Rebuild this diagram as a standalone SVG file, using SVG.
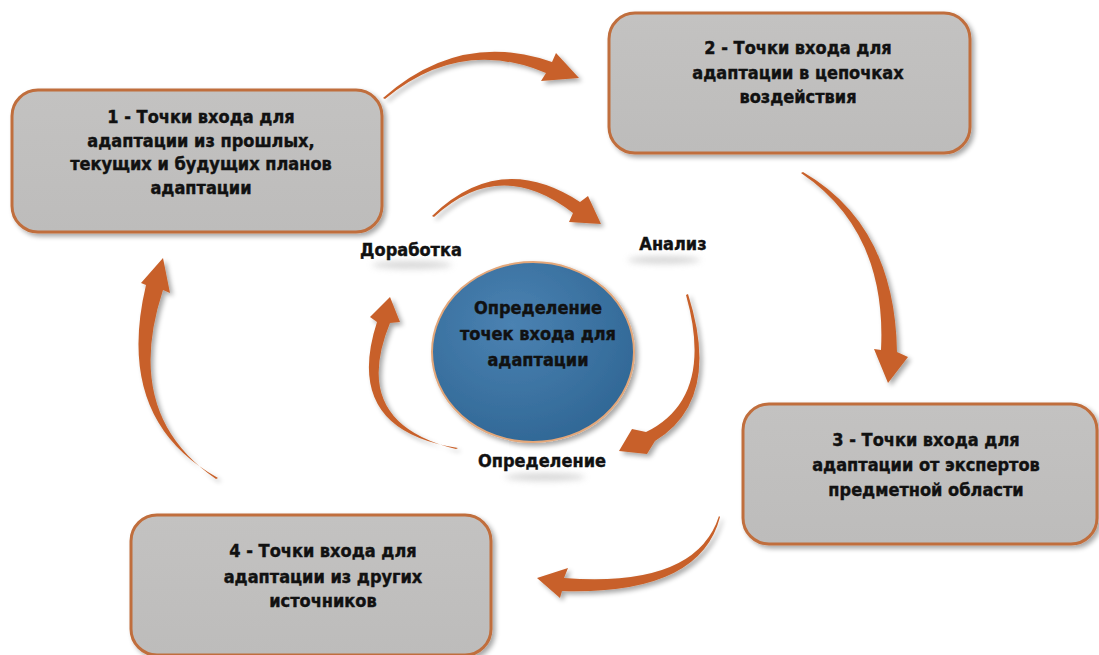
<svg xmlns="http://www.w3.org/2000/svg" width="1099" height="655" viewBox="0 0 1099 655">
  <defs>
    <filter id="shadow" x="-20%" y="-20%" width="140%" height="140%">
      <feGaussianBlur in="SourceAlpha" stdDeviation="2.5"/>
      <feOffset dx="3" dy="3" result="off"/>
      <feComponentTransfer><feFuncA type="linear" slope="0.35"/></feComponentTransfer>
      <feMerge><feMergeNode/><feMergeNode in="SourceGraphic"/></feMerge>
    </filter>
    <filter id="smudge" x="-30%" y="-100%" width="160%" height="300%">
      <feGaussianBlur stdDeviation="3"/>
    </filter>
    <radialGradient id="disc" cx="40%" cy="35%" r="70%">
      <stop offset="0" stop-color="#4b82b2"/>
      <stop offset="1" stop-color="#306795"/>
    </radialGradient>
    <linearGradient id="boxfill" x1="0" y1="0" x2="0" y2="1">
      <stop offset="0" stop-color="#c3c2c1"/>
      <stop offset="1" stop-color="#bdbcbb"/>
    </linearGradient>
  </defs>
  <style>
    .box { fill: url(#boxfill); stroke: #c06e3c; stroke-width: 3; filter: url(#shadow); }
    .lbl { font-family: "DejaVu Sans Condensed", "DejaVu Sans", sans-serif; font-stretch: condensed; font-weight: bold; font-size: 18px; fill: #111; stroke: #111; stroke-width: 0.4; text-anchor: middle; }
    .arrow { fill: #c8612a; filter: url(#shadow); }
    .smudge { fill: #b8b8b8; opacity: 0.55; filter: url(#smudge); }
  </style>

  <rect width="1099" height="655" fill="#ffffff"/>

  <!-- curved cycle arrows: each is a tapered crescent body plus a triangular head -->
  <g id="connectors">
    <!-- outer ring -->
    <path class="arrow" d="M 383 98 Q 460 30 552 62 L 556 53 L 579 78 L 541 81 L 546 73 Q 460 37 385 99 Z"/>
    <path class="arrow" d="M 803 172 Q 895 225 897 352 L 908 357 L 888 383 L 874 349 L 881 350 Q 887 231 801 173 Z"/>
    <path class="arrow" d="M 720 517 Q 700 595 562 591 L 560 598 L 537 578 L 568 568 L 564 578 Q 696 588 719 516 Z"/>
    <path class="arrow" d="M 218 478 Q 114 420 146 285 L 141 283 L 163 258 L 170 293 L 163 290 Q 122 415 216 479 Z"/>
    <!-- inner ring -->
    <path class="arrow" d="M 432 216 Q 500 150 580 202 L 588 196 L 601 224 L 569 222 L 573 213 Q 500 156 434 217 Z"/>
    <path class="arrow" d="M 688 294 Q 722 400 655 441 L 647 454 L 619 451 L 632 429 L 646 432 Q 715 398 686 295 Z"/>
    <path class="arrow" d="M 458 448 Q 342 430 377 322 L 370 317 L 390 297 L 400 322 L 390 323 Q 349 423 456 449 Z"/>
  </g>

  <g id="node1">
    <rect class="box" x="12" y="90" width="370" height="142" rx="26"/>
    <text class="lbl" x="201"><tspan y="123">1 - Точки входа для</tspan><tspan x="201" y="146.5">адаптации из прошлых,</tspan><tspan x="201" y="170">текущих и будущих планов</tspan><tspan x="201" y="193.5">адаптации</tspan></text>
  </g>

  <g id="node2">
    <rect class="box" x="609" y="13" width="361" height="140" rx="26"/>
    <text class="lbl" x="798"><tspan y="54">2 - Точки входа для</tspan><tspan x="798" y="78.5">адаптации в цепочках</tspan><tspan x="798" y="103">воздействия</tspan></text>
  </g>

  <g id="node3">
    <rect class="box" x="743" y="404" width="354" height="140" rx="26"/>
    <text class="lbl" x="926"><tspan y="446">3 - Точки входа для</tspan><tspan x="926" y="471">адаптации от экспертов</tspan><tspan x="926" y="496">предметной области</tspan></text>
  </g>

  <g id="node4">
    <rect class="box" x="131" y="515" width="360" height="140" rx="26"/>
    <text class="lbl" x="323"><tspan y="557">4 - Точки входа для</tspan><tspan x="323" y="582.5">адаптации из других</tspan><tspan x="323" y="607">источников</tspan></text>
  </g>

  <g id="center">
    <ellipse cx="533" cy="352" rx="101" ry="90" fill="url(#disc)" stroke="#e3a77a" stroke-width="2" filter="url(#shadow)"/>
    <text class="lbl" x="538"><tspan y="314">Определение</tspan><tspan x="538" y="340">точек входа для</tspan><tspan x="538" y="366">адаптации</tspan></text>
  </g>

  <g id="stage-refine">
    <ellipse class="smudge" cx="412" cy="265" rx="40" ry="4"/>
    <text class="lbl" x="411" y="256">Доработка</text>
  </g>
  <g id="stage-analysis">
    <ellipse class="smudge" cx="664" cy="260" rx="36" ry="4"/>
    <text class="lbl" x="673" y="250">Анализ</text>
  </g>
  <g id="stage-define">
    <ellipse class="smudge" cx="545" cy="477" rx="40" ry="4"/>
    <text class="lbl" x="542" y="467">Определение</text>
  </g>
</svg>
